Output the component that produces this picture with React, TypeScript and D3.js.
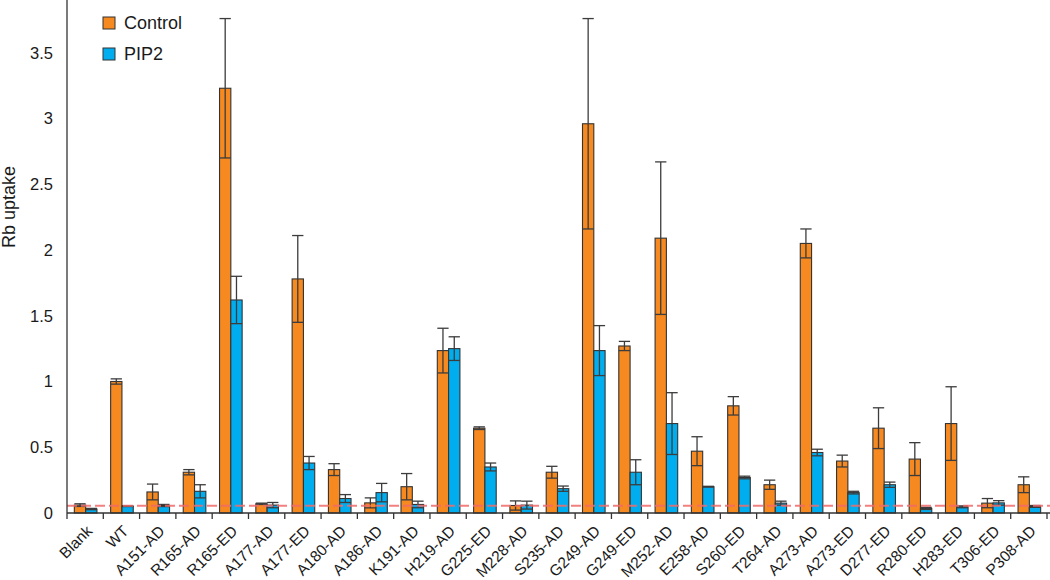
import React from "react";
import * as d3 from "d3";

const categories = ["Blank","WT","A151-AD","R165-AD","R165-ED","A177-AD","A177-ED","A180-AD","A186-AD","K191-AD","H219-AD","G225-ED","M228-AD","S235-AD","G249-AD","G249-ED","M252-AD","E258-AD","S260-ED","T264-AD","A273-AD","A273-ED","D277-ED","R280-ED","H283-ED","T306-ED","P308-AD"];
const controlValues = [0.06,1.0,0.16,0.31,3.23,0.07,1.78,0.33,0.077,0.2,1.235,0.645,0.057,0.31,2.96,1.27,2.09,0.47,0.815,0.215,2.05,0.395,0.645,0.41,0.68,0.075,0.215];
const controlErrors = [0.01,0.02,0.06,0.02,0.53,0.005,0.33,0.045,0.038,0.1,0.17,0.01,0.035,0.045,0.8,0.035,0.58,0.11,0.07,0.035,0.11,0.045,0.155,0.125,0.28,0.035,0.06];
const pip2Values = [0.03,0.052,0.057,0.165,1.62,0.06,0.38,0.11,0.155,0.065,1.25,0.35,0.06,0.185,1.235,0.31,0.68,0.2,0.27,0.075,0.46,0.155,0.215,0.035,0.047,0.077,0.05];
const pip2Errors = [0.005,0.003,0.008,0.05,0.18,0.02,0.05,0.03,0.07,0.025,0.09,0.03,0.03,0.02,0.19,0.095,0.235,0.003,0.01,0.015,0.025,0.01,0.02,0.008,0.007,0.017,0.007];
const yTicks = [0,0.5,1,1.5,2,2.5,3,3.5];
const thresholdValue = 0.055;
const seriesNames = ["Control","PIP2"];
const seriesColors = ["#F6891F","#00AEEF"];

export default function App() {
  const W = 1050, H = 580;
  const x0 = 67, x1 = 1047, yBase = 513;
  const x = d3.scaleBand<string>().domain(categories).range([x0, x1]).paddingInner(0).paddingOuter(0);
  const y = d3.scaleLinear().domain([0, 3.9]).range([yBase, 0.15]);
  const bw = 11.3;
  const series = [
    { vals: controlValues, errs: controlErrors, color: seriesColors[0] },
    { vals: pip2Values, errs: pip2Errors, color: seriesColors[1] },
  ];
  const font = "'Liberation Sans', Arial, Helvetica, sans-serif";
  const boundaries = d3.range(categories.length + 1).map(i => x0 + i * x.bandwidth());
  return (
    <svg width={W} height={H} style={{ position: "absolute", left: 0, top: 0, background: "#fff" }} fontFamily={font}>
      {categories.map((c, i) => {
        const cx = (x(c) as number) + x.bandwidth() / 2 + 0.5;
        return (
          <g key={c}>
            {series.map((s, k) => {
              const bx = cx - bw + k * bw;
              const v = s.vals[i];
              return (
                <rect key={k} x={bx} y={y(v)} width={bw} height={yBase - y(v)} fill={s.color} stroke="#333" strokeWidth={1.1} />
              );
            })}
          </g>
        );
      })}
      {categories.map((c, i) => {
        const cx = (x(c) as number) + x.bandwidth() / 2 + 0.5;
        return (
          <g key={"e" + c} stroke="#3c3c3c" strokeWidth={1.3}>
            {series.map((s, k) => {
              const bx = cx - bw + k * bw;
              const mid = bx + bw / 2;
              const v = s.vals[i], e = s.errs[i];
              const hi = y(v + e), lo = y(Math.max(0, v - e));
              return (
                <g key={k}>
                  <line x1={mid} x2={mid} y1={hi} y2={lo} />
                  <line x1={bx} x2={bx + bw} y1={hi} y2={hi} />
                  <line x1={bx} x2={bx + bw} y1={lo} y2={lo} />
                </g>
              );
            })}
          </g>
        );
      })}
      <line x1={x0} x2={W} y1={y(thresholdValue)} y2={y(thresholdValue)} stroke="#F26B6B" strokeWidth={2} strokeDasharray="10,4" opacity={0.85} />
      <line x1={x0} x2={x0} y1={0} y2={yBase} stroke="#333" strokeWidth={1.3} />
      <line x1={x0} x2={W} y1={yBase} y2={yBase} stroke="#333" strokeWidth={1.3} />
      {boundaries.map((bx, i) => (
        <line key={"t" + i} x1={bx} x2={bx} y1={yBase} y2={yBase + 6} stroke="#333" strokeWidth={1.3} />
      ))}
      {yTicks.map(t => (
        <text key={"y" + t} x={53} y={y(t)} dy="0.36em" textAnchor="end" fontSize={16.5} fill="#1a1a1a">{t}</text>
      ))}
      {categories.map(c => {
        const cx = (x(c) as number) + x.bandwidth() / 2 + 8;
        return (
          <text key={"l" + c} transform={`translate(${cx},${yBase + 19}) rotate(-45)`} textAnchor="end" fontSize={15.5} fill="#1a1a1a">{c}</text>
        );
      })}
      <text transform={`translate(15,207) rotate(-90)`} textAnchor="middle" fontSize={18} fill="#1a1a1a">Rb uptake</text>
      {seriesNames.map((n, k) => (
        <g key={n}>
          <rect x={103} y={17 + k * 31} width={12} height={12} fill={seriesColors[k]} stroke="#333" strokeWidth={1} />
          <text x={124} y={23 + k * 31} dy="0.36em" fontSize={18} fill="#1a1a1a">{n}</text>
        </g>
      ))}
    </svg>
  );
}
